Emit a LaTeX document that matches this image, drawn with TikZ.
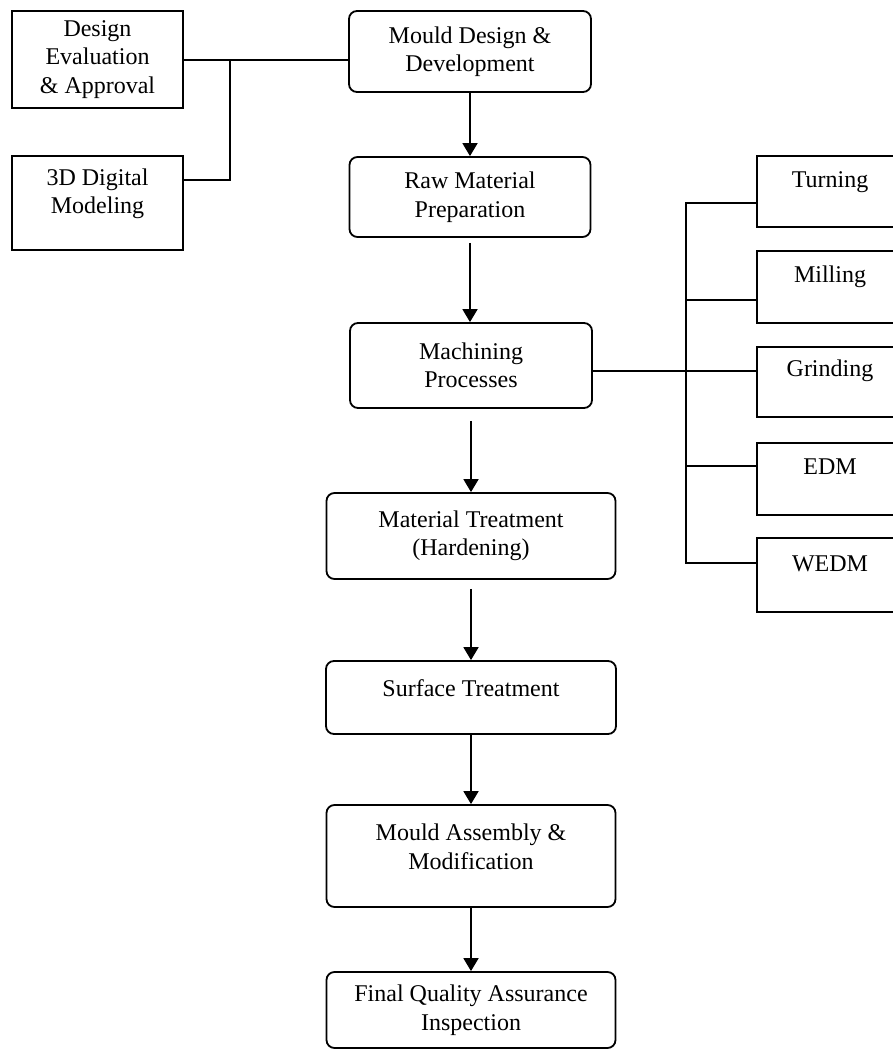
\documentclass[tikz,border=0pt]{standalone}
\usepackage{fontspec}
\setmainfont{Liberation Serif}
\usetikzlibrary{arrows.meta,calc}
\begin{document}
\begin{tikzpicture}[x=1pt,y=-1pt,
  line width=1.8pt,
  every node/.style={font=\fontsize{24}{28.5}\selectfont, align=center, inner sep=0pt},
  rbox/.style={draw, rounded corners=8pt, minimum width=#1, line width=1.8pt},
  sbox/.style={draw, rectangle, line width=1.8pt},
  lbl/.style={draw=none},
  arr/.style={-{Triangle[length=13pt,width=15pt]}, line width=1.8pt},
  conn/.style={line width=1.8pt}
]
\useasboundingbox (0,0) rectangle (892,1055);

% main column
\node[rbox=242pt, minimum height=81pt] (mdd) at (470,51.5) {Mould Design \&\\Development};
\node[rbox=241pt, minimum height=80pt] (raw) at (470,197) {Raw Material\\Preparation};
\node[rbox=242pt, minimum height=85pt] (mach) at (471,365.5) {Machining\\Processes};
\node[rbox=289pt, minimum height=86pt] (mat) at (471,536) {Material Treatment\\(Hardening)};
\node[rbox=290pt, minimum height=73pt] (surf) at (471,697.5) {};
\node[lbl] (surfT) at (471,688) {Surface Treatment};
\node[rbox=289pt, minimum height=102pt] (asm) at (471,856) {};
\node[lbl] (asmT) at (471,847) {Mould Assembly \&\\Modification};
\node[rbox=289pt, minimum height=76pt] (fqa) at (471,1010) {Final Quality Assurance\\Inspection};

% left boxes
\node[sbox, minimum width=171pt, minimum height=97pt] (dea) at (97.5,59.5) {Design\\Evaluation\\\& Approval};
\node[sbox, minimum width=171pt, minimum height=94pt] (ddm) at (97.5,203) {};
\node[lbl] (ddmT) at (97.5,194) {3D Digital\\Modeling};

% right boxes
\node[sbox, minimum width=148pt, minimum height=71pt] (turn) at (831,191.5) {};
\node[lbl] (turnT) at (830,182) {Turning};
\node[sbox, minimum width=148pt, minimum height=72pt] (mill) at (831,287) {};
\node[lbl] (millT) at (830,277) {Milling};
\node[sbox, minimum width=148pt, minimum height=70pt] (grind) at (831,382) {};
\node[lbl] (grindT) at (830,371) {Grinding};
\node[sbox, minimum width=148pt, minimum height=72pt] (edm) at (831,479) {};
\node[lbl] (edmT) at (830,467) {EDM};
\node[sbox, minimum width=148pt, minimum height=74pt] (wedm) at (831,575) {};
\node[lbl] (wedmT) at (830,564) {WEDM};

% arrows
\draw[arr] (mdd.south) -- (raw.north);
\draw[arr, shorten <=5pt] (raw.south) -- (raw.south |- mach.north);
\draw[arr, shorten <=12pt] (mach.south) -- (mat.north);
\draw[arr, shorten <=9pt] (mat.south) -- (surf.north);
\draw[arr] (surf.south) -- (asm.north);
\draw[arr] (asm.south) -- (fqa.north);

% left connectors
\coordinate (lj) at (230,60);
\coordinate (lk) at (230,180);
\draw[conn] (dea.east |- lj) -- (mdd.west |- lj);
\draw[conn] (lj) -- (lk) -- (ddm.east |- lk);

% right bus
\coordinate (bt) at (686,203);
\coordinate (bm) at (686,300);
\coordinate (bg) at (686,371);
\coordinate (be) at (686,466);
\coordinate (bw) at (686,563);
\draw[conn] (turn.west |- bt) -- (bt) -- (bw) -- (wedm.west |- bw);
\draw[conn] (bm) -- (mill.west |- bm);
\draw[conn] (mach.east |- bg) -- (grind.west |- bg);
\draw[conn] (be) -- (edm.west |- be);
\end{tikzpicture}
\end{document}
